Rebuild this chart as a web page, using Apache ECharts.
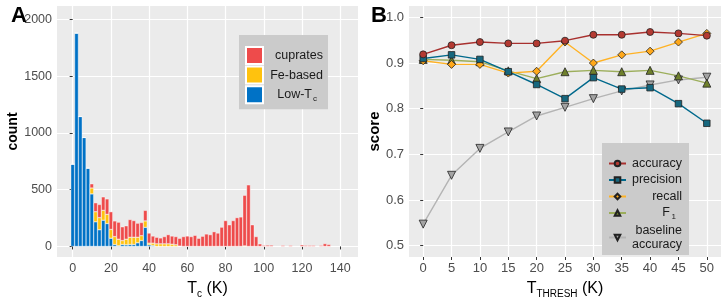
<!DOCTYPE html>
<html>
<head>
<meta charset="utf-8">
<script src="https://cdn.jsdelivr.net/npm/echarts@6/dist/echarts.min.js"></script>
<style>
  html, body { margin: 0; padding: 0; background: #fff; }
  #chart { width: 726px; height: 304px; }
</style>
</head>
<body>
<div id="chart"></div>
<script>
// panel A: histogram of Tc, bins 2 K wide (bin centres)
const bins = [0, 2, 4, 6, 8, 10, 12, 14, 16, 18, 20, 22, 24, 26, 28, 30, 32, 34, 36, 38,
  40, 42, 44, 46, 48, 50, 52, 54, 56, 58, 60, 62, 64, 66, 68, 70, 72, 74, 76, 78,
  80, 82, 84, 86, 88, 90, 92, 94, 96, 98, 100, 102, 104, 106, 108, 110, 112, 114, 116, 118,
  120, 122, 124, 126, 128, 130, 132, 134]
const lowTc = [725, 1880, 1145, 960, 690, 463, 217, 147, 231, 202, 72, 17, 6, 17, 14, 17, 17, 32, 52, 168,
  14, 9, 0, 0, 0, 0, 0, 0, 0, 0, 0, 0, 0, 0, 0, 0, 0, 0, 0, 0,
  0, 0, 0, 0, 0, 0, 0, 0, 0, 0, 0, 0, 0, 0, 0, 0, 0, 0, 0, 0,
  0, 0, 0, 0, 0, 0, 0, 0]
const feBased = [0, 0, 0, 0, 0, 52, 89, 107, 87, 81, 78, 70, 58, 35, 50, 64, 64, 49, 43, 57,
  15, 20, 23, 23, 23, 23, 20, 15, 3, 0, 0, 0, 0, 0, 0, 0, 0, 0, 0, 0,
  0, 0, 0, 0, 0, 5, 0, 0, 0, 0, 0, 0, 0, 0, 0, 0, 0, 0, 0, 0,
  0, 0, 0, 0, 0, 0, 0, 0]
const cuprates = [0, 0, 0, 0, 0, 37, 79, 116, 119, 136, 156, 138, 150, 121, 118, 156, 147, 124, 116, 93,
  89, 63, 58, 52, 64, 81, 72, 72, 69, 87, 92, 87, 98, 72, 90, 110, 104, 130, 118, 170,
  228, 191, 228, 254, 260, 446, 543, 191, 87, 23, 10, 12, 12, 0, 0, 10, 0, 10, 0, 0,
  14, 10, 10, 10, 0, 10, 25, 18]
const countTicks = [0, 500, 1000, 1500, 2000]
const tcTicks = [0, 20, 40, 60, 80, 100, 120, 140]

// panel B: scores vs threshold
const thresh = [0, 5, 10, 15, 20, 25, 30, 35, 40, 45, 50]
const accuracy = [0.919, 0.939, 0.946, 0.943, 0.943, 0.949, 0.962, 0.962, 0.968, 0.965, 0.960]
const precision = [0.910, 0.918, 0.908, 0.881, 0.853, 0.822, 0.868, 0.843, 0.846, 0.811, 0.768]
const recall = [0.905, 0.897, 0.897, 0.878, 0.882, 0.946, 0.900, 0.918, 0.926, 0.946, 0.965]
const f1 = [0.908, 0.906, 0.903, 0.883, 0.866, 0.881, 0.884, 0.881, 0.884, 0.872, 0.856]
const baseline = [0.547, 0.654, 0.713, 0.749, 0.784, 0.803, 0.822, 0.839, 0.852, 0.863, 0.869]
const scoreTicks = [0.5, 0.6, 0.7, 0.8, 0.9, 1.0]

const FONT = '"Liberation Sans", Arial, sans-serif'
const tickCol = '#4D4D4D'

// count goes in column 0 so that the stack is done on the y values
let barSeries = function (name, vals, color) {
  return {
    name: name,
    type: 'bar',
    stack: 'tc',
    xAxisIndex: 0,
    yAxisIndex: 0,
    barWidth: 3.8,
    encode: { x: 1, y: 0 },
    data: bins.map((b, i) => [vals[i], b]),
    itemStyle: { color: color, borderColor: '#fff', borderWidth: 0.4 },
    emphasis: { disabled: true }
  }
}
let lineSeries = function (name, vals, lineCol, fill, symbol, size, rotate) {
  return {
    name: name,
    type: 'line',
    xAxisIndex: 1,
    yAxisIndex: 1,
    data: thresh.map((t, i) => [t, vals[i]]),
    symbol: symbol,
    symbolSize: size,
    symbolRotate: rotate || 0,
    showAllSymbol: true,
    lineStyle: { color: lineCol, width: 1.4 },
    itemStyle: { color: fill, borderColor: '#222', borderWidth: 0.8 },
    emphasis: { disabled: true },
    z: 3
  }
}

const axisTick = { show: true, length: 3, lineStyle: { color: '#333', width: 1 } }
const splitLine = { show: true, lineStyle: { color: '#fff', width: 1.2 } }

const option = {
  animation: false,
  textStyle: { fontFamily: FONT },
  title: [
    { text: 'A', left: 6, top: 0, textStyle: { fontSize: 22, fontWeight: 'bold', color: '#000', fontFamily: FONT } },
    { text: 'B', left: 366, top: 0, textStyle: { fontSize: 22, fontWeight: 'bold', color: '#000', fontFamily: FONT } }
  ],
  grid: [
    { left: 57, top: 6, width: 301, height: 254, show: true, backgroundColor: '#EBEBEB', borderWidth: 0 },
    { left: 409, top: 6, width: 312, height: 254, show: true, backgroundColor: '#EBEBEB', borderWidth: 0 }
  ],
  xAxis: [
    {
      type: 'value', gridIndex: 0, min: -8.2, max: 149.3,
      axisLine: { show: false },
      axisTick: Object.assign({ customValues: tcTicks }, axisTick),
      axisLabel: { customValues: tcTicks, color: tickCol, fontSize: 12.5, margin: 5 },
      splitLine: splitLine,
      name: '{t|T}{s|c}{t| (K)}',
      nameLocation: 'middle',
      nameGap: 22,
      nameTextStyle: {
        rich: {
          t: { fontSize: 16, color: '#000', lineHeight: 20 },
          s: { fontSize: 10, color: '#000', lineHeight: 20, verticalAlign: 'bottom' }
        }
      }
    },
    {
      type: 'value', gridIndex: 1, min: -2.5, max: 52.5,
      axisLine: { show: false },
      axisTick: Object.assign({ customValues: thresh }, axisTick),
      axisLabel: { customValues: thresh, color: tickCol, fontSize: 13, margin: 5 },
      splitLine: splitLine,
      name: '{t|T}{s|THRESH}{t| (K)}',
      nameLocation: 'middle',
      nameGap: 22,
      nameTextStyle: {
        rich: {
          t: { fontSize: 16, color: '#000', lineHeight: 20 },
          s: { fontSize: 10, color: '#000', lineHeight: 20, verticalAlign: 'bottom' }
        }
      }
    }
  ],
  yAxis: [
    {
      type: 'value', gridIndex: 0, min: -93, max: 2119,
      axisLine: { show: false },
      axisTick: Object.assign({ customValues: countTicks }, axisTick),
      axisLabel: { customValues: countTicks, color: tickCol, fontSize: 12.5, margin: 5, formatter: v => String(v) },
      splitLine: splitLine,
      name: 'count',
      nameLocation: 'middle',
      nameGap: 34,
      nameTextStyle: { fontSize: 14, fontWeight: 'bold', color: '#000' }
    },
    {
      type: 'value', gridIndex: 1, min: 0.475, max: 1.025,
      axisLine: { show: false },
      axisTick: Object.assign({ customValues: scoreTicks }, axisTick),
      axisLabel: { customValues: scoreTicks, color: tickCol, fontSize: 13, margin: 5, formatter: v => v.toFixed(1) },
      splitLine: splitLine,
      name: 'score',
      nameLocation: 'middle',
      nameGap: 22,
      nameTextStyle: { fontSize: 15, fontWeight: 'bold', color: '#000' }
    }
  ],
  legend: [
    {
      data: ['cuprates', 'Fe-based', 'Low-Tc'],
      orient: 'vertical',
      left: 239, top: 35,
      padding: [11, 5, 5, 6],
      backgroundColor: '#CBCBCB',
      itemWidth: 17, itemHeight: 17, itemGap: 0.6, itemTextGap: 5,
      icon: 'rect',
      selectedMode: false,
      formatter: function (name) {
        if (name === 'Low-Tc') return '{a|Low-T}{s|c}'
        return '{b|' + name + '}'
      },
      textStyle: {
        rich: {
          a: { width: 44, align: 'right', fontSize: 12.5, color: '#1A1A1A', lineHeight: 17 },
          b: { width: 55, align: 'right', fontSize: 12.5, color: '#1A1A1A', lineHeight: 17 },
          s: { width: 5, align: 'right', fontSize: 8, color: '#1A1A1A', lineHeight: 17, verticalAlign: 'bottom' }
        }
      }
    },
    {
      data: ['accuracy', 'precision', 'recall', 'F1', 'baseline accuracy'],
      orient: 'vertical',
      left: 602, top: 143,
      padding: [14, 7, 4, 6],
      backgroundColor: '#CBCBCB',
      itemWidth: 17, itemHeight: 7, itemGap: 3.5, itemTextGap: 5,
      selectedMode: false,
      formatter: function (name) {
        if (name === 'F1') return '{f|F}{s|1}'
        if (name === 'baseline accuracy') return '{a|baseline}\n{a|accuracy}'
        return '{a|' + name + '}'
      },
      textStyle: {
        rich: {
          a: { width: 51, align: 'right', fontSize: 12.5, color: '#1A1A1A', lineHeight: 14 },
          f: { width: 39, align: 'right', fontSize: 12.5, color: '#1A1A1A', lineHeight: 15 },
          s: { width: 6, align: 'right', fontSize: 8, color: '#1A1A1A', lineHeight: 15, verticalAlign: 'bottom' }
        }
      }
    }
  ],
  series: [
    barSeries('Low-Tc', lowTc, '#0072C6'),
    barSeries('Fe-based', feBased, '#FFC20E'),
    barSeries('cuprates', cuprates, '#EE4B4B'),
    lineSeries('baseline accuracy', baseline, '#B4B4B4', '#A3A3A3', 'triangle', 8, 180),
    lineSeries('F1', f1, '#9CAE5B', '#6F802C', 'triangle', 8),
    lineSeries('recall', recall, '#FFB224', '#FFA81A', 'diamond', 8),
    lineSeries('precision', precision, '#00698C', '#16677E', 'rect', 6.5),
    lineSeries('accuracy', accuracy, '#A8302E', '#B43A32', 'circle', 7)
  ]
}

const chart = echarts.init(document.getElementById('chart'), null, { renderer: 'canvas' })
chart.setOption(option)
</script>
</body>
</html>
